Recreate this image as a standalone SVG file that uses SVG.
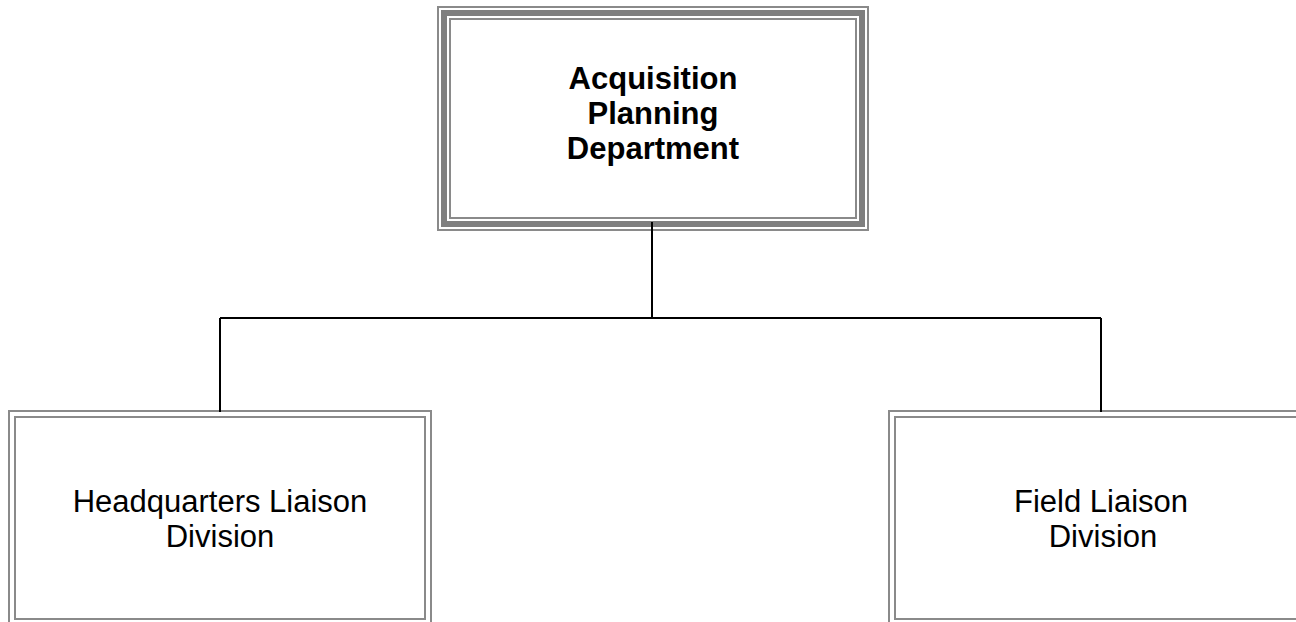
<svg xmlns="http://www.w3.org/2000/svg" width="1296" height="622" viewBox="0 0 1296 622">
<style>
.thin{fill:none;stroke:#8a8a8a;stroke-width:2}
.thick{fill:none;stroke:#7f7f7f;stroke-width:6}
.conn{fill:none;stroke:#000;stroke-width:2}
.t{font-family:"Liberation Sans",Arial,sans-serif;font-size:31px;fill:#000;text-anchor:middle}
.b{font-weight:bold}
</style>
<rect width="1296" height="622" fill="#fff"/>
<g id="top">
<rect class="thin" x="438" y="7" width="430" height="223"/>
<rect class="thick" x="444" y="13" width="418" height="211"/>
<rect class="thin" x="450" y="19" width="406" height="199"/>
<text class="t b" x="653" y="89">Acquisition</text>
<text class="t b" x="653" y="124">Planning</text>
<text class="t b" x="653" y="159">Department</text>
</g>
<g id="hq">
<rect class="thin" x="9" y="411" width="422" height="230"/>
<rect class="thin" x="15" y="417" width="410" height="202"/>
<text class="t" x="220" y="512">Headquarters Liaison</text>
<text class="t" x="220" y="547">Division</text>
</g>
<g id="field">
<rect class="thin" x="889" y="411" width="430" height="230"/>
<rect class="thin" x="895" y="417" width="430" height="202"/>
<text class="t" x="1101" y="512">Field Liaison</text>
<text class="t" x="1103" y="547">Division</text>
</g>
<g id="connectors">
<path class="conn" d="M652 222 V318 M220 318 H1101 M220 318 V412 M1101 318 V412"/>
</g>
</svg>
